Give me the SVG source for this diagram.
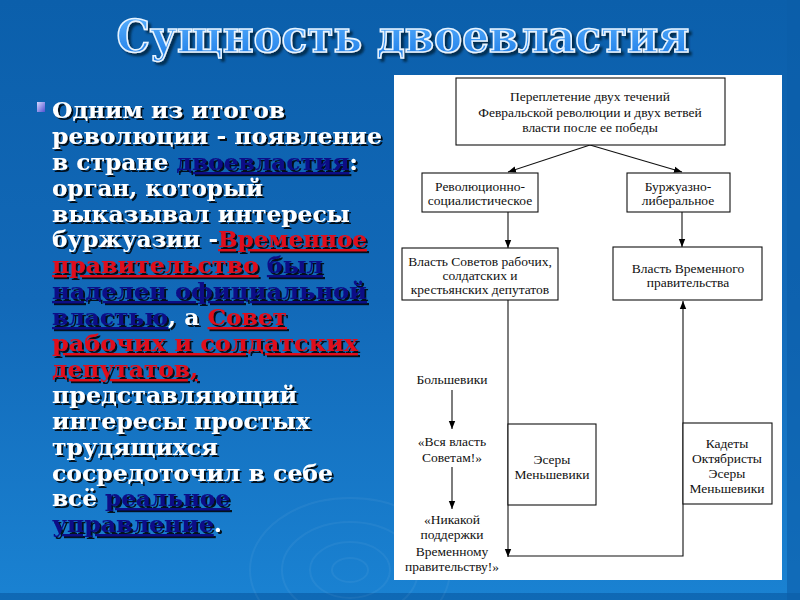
<svg xmlns="http://www.w3.org/2000/svg" width="800" height="600" viewBox="0 0 800 600">
<defs>
<linearGradient id="bg" x1="0" y1="0" x2="0" y2="1">
<stop offset="0" stop-color="#0b5fab"/>
<stop offset="0.5" stop-color="#1269b8"/>
<stop offset="1" stop-color="#1a82d2"/>
</linearGradient>
<linearGradient id="tg" x1="0" y1="0" x2="0" y2="1">
<stop offset="0" stop-color="#5fb4ff"/>
<stop offset="1" stop-color="#1a7ae6"/>
</linearGradient>
<linearGradient id="bul" x1="0" y1="0" x2="1" y2="1">
<stop offset="0" stop-color="#d8d8ff"/>
<stop offset="1" stop-color="#5050d0"/>
</linearGradient>
<filter id="sh" x="-5%" y="-20%" width="110%" height="150%">
<feDropShadow dx="2" dy="2" stdDeviation="0.6" flood-color="#000" flood-opacity="0.85"/>
</filter>
<filter id="tsh" x="-5%" y="-20%" width="110%" height="150%">
<feDropShadow dx="3" dy="3" stdDeviation="1" flood-color="#02254a" flood-opacity="0.9"/>
</filter>
<marker id="ah" viewBox="0 0 10 10" refX="10" refY="5" markerWidth="8" markerHeight="8" markerUnits="userSpaceOnUse" orient="auto">
<path d="M0,1 L10,5 L0,9 Z" fill="#000"/>
</marker>
</defs>
<style>
.t{font-family:"DejaVu Serif","Liberation Serif",serif;font-weight:bold;font-size:22px;fill:#fff}
.b{fill:#0b0b86;text-decoration:underline}
.r{fill:#e0101a;text-decoration:underline}
.box{fill:#fff;stroke:#111;stroke-width:1.1}
.d{font-family:"Liberation Serif","Times New Roman",serif;font-size:13.5px;fill:#111;text-anchor:middle}
.c{fill:none;stroke:#111;stroke-width:1.1}
</style>
<rect width="800" height="600" fill="url(#bg)"/>
<rect x="787" y="0" width="13" height="600" fill="#0c5ea8" opacity="0.6"/>
<rect x="0" y="593" width="800" height="7" fill="#0c5ea8" opacity="0.7"/>
<g fill="none" stroke="#ffffff" stroke-opacity="0.05" stroke-width="2">
<ellipse cx="350" cy="570" rx="18" ry="12"/>
<ellipse cx="350" cy="570" rx="40" ry="28"/>
<ellipse cx="350" cy="570" rx="68" ry="48"/>
<ellipse cx="350" cy="570" rx="100" ry="72"/>
</g>
<text x="403" y="52" text-anchor="middle" textLength="573" lengthAdjust="spacingAndGlyphs" font-family="DejaVu Serif, Liberation Serif, serif" font-weight="bold" font-size="44" fill="url(#tg)" stroke="#e8f4ff" stroke-width="1.6" filter="url(#tsh)">Сущность двоевластия</text>
<rect x="37" y="102" width="8" height="10" fill="url(#bul)"/>
<g class="t" filter="url(#sh)">
<text x="52" y="118" textLength="233" lengthAdjust="spacingAndGlyphs">Одним из итогов</text>
<text x="52" y="144" textLength="330" lengthAdjust="spacingAndGlyphs">революции - появление</text>
<text x="52" y="170" textLength="306" lengthAdjust="spacingAndGlyphs">в стране <tspan class="b">двоевластия</tspan>:</text>
<text x="52" y="196" textLength="211" lengthAdjust="spacingAndGlyphs">орган, который</text>
<text x="52" y="222" textLength="298" lengthAdjust="spacingAndGlyphs">выказывал интересы</text>
<text x="52" y="247" textLength="315" lengthAdjust="spacingAndGlyphs">буржуазии -<tspan class="r">Временное</tspan></text>
<text x="52" y="273" textLength="271" lengthAdjust="spacingAndGlyphs"><tspan class="r">правительство</tspan> <tspan class="b">был</tspan></text>
<text x="52" y="299" textLength="315" lengthAdjust="spacingAndGlyphs"><tspan class="b">наделен официальной</tspan></text>
<text x="52" y="325" textLength="235" lengthAdjust="spacingAndGlyphs"><tspan class="b">властью</tspan>, а <tspan class="r">Совет</tspan></text>
<text x="52" y="351" textLength="306" lengthAdjust="spacingAndGlyphs"><tspan class="r">рабочих и солдатских</tspan></text>
<text x="52" y="377" textLength="146" lengthAdjust="spacingAndGlyphs"><tspan class="r">депутатов,</tspan></text>
<text x="52" y="403" textLength="245" lengthAdjust="spacingAndGlyphs">представляющий</text>
<text x="52" y="429" textLength="258" lengthAdjust="spacingAndGlyphs">интересы простых</text>
<text x="52" y="455" textLength="166" lengthAdjust="spacingAndGlyphs">трудящихся</text>
<text x="52" y="481" textLength="281" lengthAdjust="spacingAndGlyphs">сосредоточил в себе</text>
<text x="52" y="506" textLength="178" lengthAdjust="spacingAndGlyphs">всё <tspan class="b">реальное</tspan></text>
<text x="52" y="532" textLength="170" lengthAdjust="spacingAndGlyphs"><tspan class="b">управление</tspan>.</text>
</g>
<rect x="394" y="75" width="388" height="505" fill="#fff"/>
<g id="connectors">
<line class="c" x1="590" y1="145" x2="508" y2="172" marker-end="url(#ah)"/>
<line class="c" x1="590" y1="145" x2="682" y2="172" marker-end="url(#ah)"/>
<line class="c" x1="508" y1="212" x2="508" y2="248" marker-end="url(#ah)"/>
<line class="c" x1="682" y1="212" x2="682" y2="247" marker-end="url(#ah)"/>
<line class="c" x1="508" y1="300" x2="508" y2="557" marker-end="url(#ah)"/>
<polyline class="c" points="508,556 683,556 683,301" marker-end="url(#ah)"/>
<line class="c" x1="452" y1="390" x2="452" y2="429" marker-end="url(#ah)"/>
<line class="c" x1="452" y1="467" x2="452" y2="509" marker-end="url(#ah)"/>
</g>
<g id="n-top">
<rect class="box" x="456" y="78" width="269" height="67"/>
<text class="d" x="590" y="101">Переплетение двух течений</text>
<text class="d" x="590" y="117">Февральской революции и двух ветвей</text>
<text class="d" x="590" y="132">власти после ее победы</text>
</g>
<g id="n-revsoc">
<rect class="box" x="422" y="173" width="116" height="39"/>
<text class="d" x="480" y="191">Революционно-</text>
<text class="d" x="480" y="205">социалистическое</text>
</g>
<g id="n-burlib">
<rect class="box" x="627" y="173" width="103" height="39"/>
<text class="d" x="678" y="191">Буржуазно-</text>
<text class="d" x="678" y="205">либеральное</text>
</g>
<g id="n-sovety">
<rect class="box" x="402" y="248" width="156" height="52"/>
<text class="d" x="480" y="266">Власть Советов рабочих,</text>
<text class="d" x="480" y="280">солдатских и</text>
<text class="d" x="480" y="294">крестьянских депутатов</text>
</g>
<g id="n-vremennoe">
<rect class="box" x="613" y="247" width="149" height="53"/>
<text class="d" x="688" y="273">Власть Временного</text>
<text class="d" x="688" y="287">правительства</text>
</g>
<g id="n-bolsheviki">
<text class="d" x="452" y="384">Большевики</text>
</g>
<g id="n-vsya">
<text class="d" x="452" y="446">«Вся власть</text>
<text class="d" x="452" y="462">Советам!»</text>
</g>
<g id="n-nikakoy">
<text class="d" x="452" y="524">«Никакой</text>
<text class="d" x="452" y="539">поддержки</text>
<text class="d" x="452" y="556">Временному</text>
<text class="d" x="452" y="571">правительству!»</text>
</g>
<g id="n-esery">
<rect class="box" x="508" y="424" width="88" height="81"/>
<text class="d" x="552" y="464">Эсеры</text>
<text class="d" x="552" y="479">Меньшевики</text>
</g>
<g id="n-kadety">
<rect class="box" x="683" y="423" width="89" height="81"/>
<text class="d" x="727" y="448">Кадеты</text>
<text class="d" x="727" y="463">Октябристы</text>
<text class="d" x="727" y="478">Эсеры</text>
<text class="d" x="727" y="493">Меньшевики</text>
</g>
</svg>
